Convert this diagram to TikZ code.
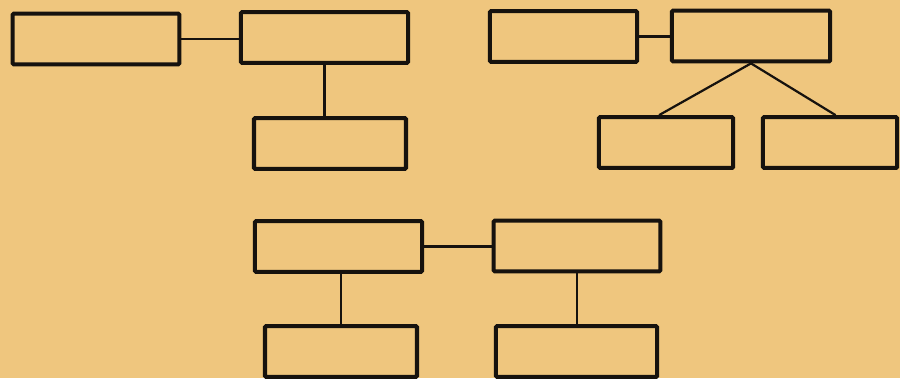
\documentclass[tikz,border=0pt]{standalone}
\usepackage{tikz}
\usetikzlibrary{calc}
\definecolor{paper}{RGB}{239,198,126}
\definecolor{ink}{RGB}{22,18,14}
\begin{document}
\begin{tikzpicture}[x=0.03cm, y=-0.03cm,
  box/.style={draw=ink, line width=3.5pt, rounded corners=1pt, minimum height=1.52cm, inner sep=0pt},
  link/.style={draw=ink, line width=1.9pt}]
\fill[paper] (0,0) rectangle (900,378);
\useasboundingbox (0,0) rectangle (900,378);
% top left group
\node[box, minimum width=5cm] (a) at (96,39) {};
\node[box, minimum width=5.02cm] (b) at (324.5,37.5) {};
\node[box, minimum width=4.56cm] (c) at (330,143.5) {};
% top right group
\node[box, minimum width=4.42cm] (d) at (563.5,36.5) {};
\node[box, minimum width=4.75cm] (e) at (751,36) {};
\node[box, minimum width=4.03cm] (f) at (666,142.5) {};
\node[box, minimum width=4.03cm] (g) at (830,142.5) {};
% bottom group
\node[box, minimum width=5.02cm] (h) at (338.5,246.5) {};
\node[box, minimum width=5cm] (i) at (577,246) {};
\node[box, minimum width=4.56cm] (j) at (341,351.5) {};
\node[box, minimum width=4.84cm] (k) at (576.5,351.5) {};
\draw[link] (a.east) -- (a.east -| b.west);
\draw[link] (b.south) -- (b.south |- c.north);
\draw[link] (d.east) -- (d.east -| e.west);
\draw[link] (e.south) -- ($(f.north west)!0.45!(f.north east)$);
\draw[link] (e.south) -- ($(g.north west)!0.54!(g.north east)$);
\draw[link] (h.east) -- (h.east -| i.west);
\draw[link] (j.north) -- (j.north |- h.south);
\draw[link] (i.south) -- (i.south |- k.north);
\end{tikzpicture}
\end{document}
